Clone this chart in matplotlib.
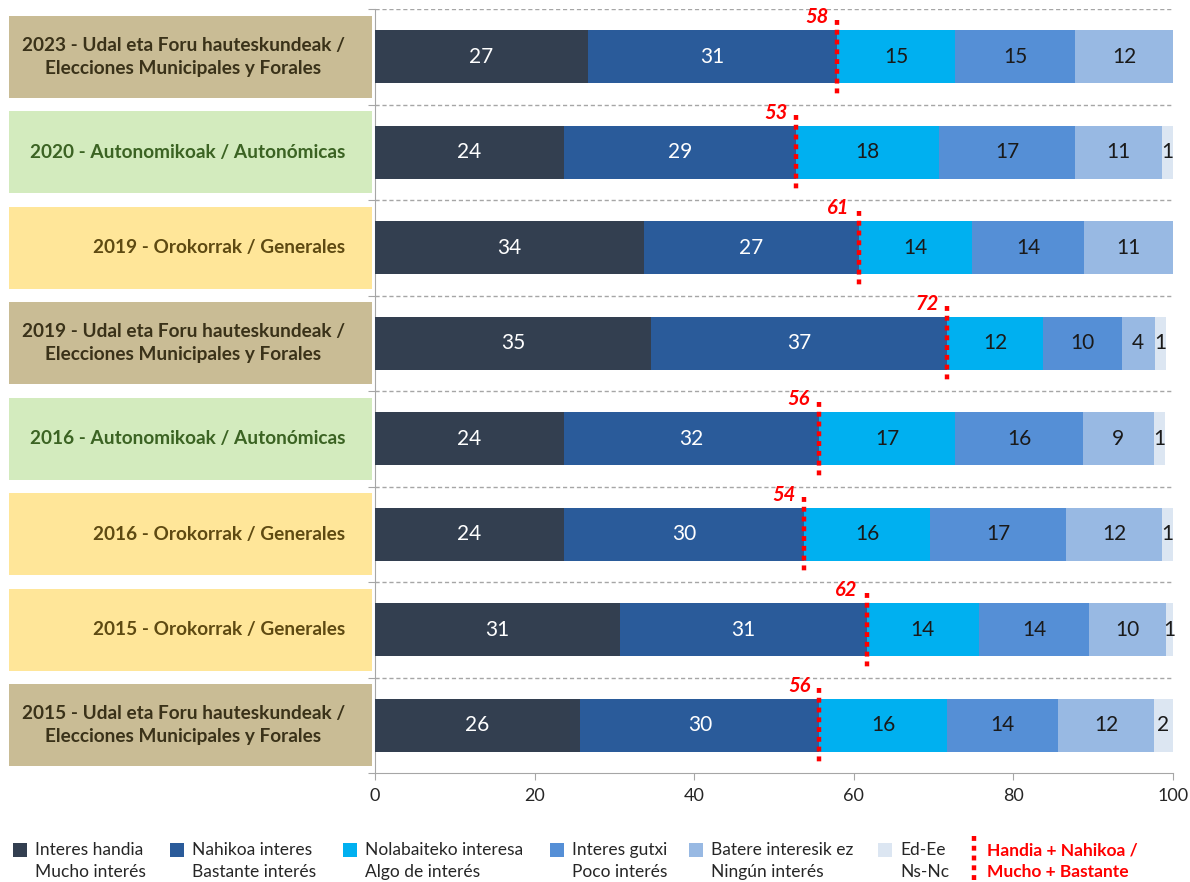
import matplotlib
matplotlib.use("Agg")
import matplotlib.pyplot as plt
from matplotlib.patches import Rectangle
from matplotlib.lines import Line2D
from matplotlib.transforms import blended_transform_factory

plt.rcParams["font.family"] = ["Lato", "DejaVu Sans"]

# rows, top to bottom
elections = [
    "2023 - Udal eta Foru hauteskundeak /\nElecciones Municipales y Forales",
    "2020 - Autonomikoak / Autonómicas",
    "2019 - Orokorrak / Generales",
    "2019 - Udal eta Foru hauteskundeak /\nElecciones Municipales y Forales",
    "2016 - Autonomikoak / Autonómicas",
    "2016 - Orokorrak / Generales",
    "2015 - Orokorrak / Generales",
    "2015 - Udal eta Foru hauteskundeak /\nElecciones Municipales y Forales",
]
election_kind = ["udal", "auto", "gen", "udal", "auto", "gen", "gen", "udal"]

# % per answer, same row order
mucho = [26.7, 23.7, 33.7, 34.6, 23.7, 23.7, 30.7, 25.7]
bastante = [31.2, 29.1, 26.9, 37.1, 31.9, 30.1, 30.9, 30.0]
algo = [14.8, 17.9, 14.2, 12.0, 17.1, 15.8, 14.1, 16.0]
poco = [15.0, 17.0, 14.1, 9.9, 16.0, 17.0, 13.8, 13.9]
ninguno = [12.3, 10.9, 11.1, 4.1, 8.9, 12.0, 9.6, 12.0]
nsnc = [0.0, 1.4, 0.0, 1.4, 1.4, 1.4, 0.9, 2.4]

series = [mucho, bastante, algo, poco, ninguno, nsnc]
legend_eu = ["Interes handia", "Nahikoa interes", "Nolabaiteko interesa",
             "Interes gutxi", "Batere interesik ez", "Ed-Ee"]
legend_es = ["Mucho interés", "Bastante interés", "Algo de interés",
             "Poco interés", "Ningún interés", "Ns-Nc"]
colors = ["#333F50", "#2A5B9A", "#00B0F0", "#558FD6", "#98B9E3", "#DCE6F2"]
text_colors = ["white", "white", "#1A1A1A", "#1A1A1A", "#1A1A1A", "#1A1A1A"]

box_face = {"udal": "#C9BC95", "auto": "#D3EBBE", "gen": "#FFE699"}
box_text = {"udal": "#3A3219", "auto": "#3B6323", "gen": "#5E4A12"}

RED = "#FF0000"
W, H = 1190, 882

fig = plt.figure(figsize=(W / 100, H / 100), dpi=100)
ax = fig.add_axes([375 / W, 109 / H, 798 / W, 764 / H])

n = len(elections)
ys = list(range(n))
bar_h = 0.555

left = [0.0] * n
for vals, col, tcol in zip(series, colors, text_colors):
    ax.barh(ys, vals, left=left, height=bar_h, color=col, edgecolor="none", zorder=3)
    for y, v, l in zip(ys, vals, left):
        if v > 0:
            ax.text(l + v / 2, y, f"{round(v)}", ha="center", va="center",
                    fontsize=15, color=tcol, zorder=4)
    left = [a + b for a, b in zip(left, vals)]

# Handia + Nahikoa marker
for y, a, b in zip(ys, mucho, bastante):
    s = a + b
    ax.plot([s, s], [y - 0.39, y + 0.39], color=RED, lw=3.2,
            linestyle=(0, (1.1, 1.1)), zorder=5, solid_capstyle="butt")
    ax.text(s - 1.1, y - bar_h / 2 - 0.03, f"{round(s)}", ha="right", va="bottom",
            color=RED, fontsize=14.5, fontweight="bold", fontstyle="italic", zorder=6)

ax.set_xlim(0, 100)
ax.set_ylim(n - 0.5, -0.5)
for y in ys:
    ax.axhline(y - 0.5, color="#A6A6A6", lw=1, linestyle=(0, (3, 2)), zorder=1)

ax.set_xticks(range(0, 101, 20))
ax.set_yticks([y - 0.5 for y in ys] + [n - 0.5])
ax.set_yticklabels([])
ax.tick_params(axis="x", length=5, color="#A6A6A6", labelsize=13, labelcolor="#262626", pad=6)
ax.tick_params(axis="y", length=5, color="#A6A6A6")
for side in ("top", "right"):
    ax.spines[side].set_visible(False)
for side in ("left", "bottom"):
    ax.spines[side].set_color("#A6A6A6")

# category boxes on the left
tr = blended_transform_factory(fig.transFigure, ax.transData)
for y, label, kind in zip(ys, elections, election_kind):
    ax.add_patch(Rectangle((9 / W, y - 0.43), 363 / W, 0.86, transform=tr,
                           facecolor=box_face[kind], edgecolor="none", clip_on=False))
    ax.text(345 / W, y, label, transform=tr, ha="right", va="center",
            multialignment="center", fontsize=13.7, fontweight="bold",
            color=box_text[kind], linespacing=1.4, clip_on=False)

# legend
leg_x = [13, 170, 343, 550, 689, 878]
y1 = 1 - 850 / H
y2 = 1 - 872 / H
for x, eu, es, col in zip(leg_x, legend_eu, legend_es, colors):
    fig.patches.append(Rectangle((x / W, y1 - 7 / H), 14 / W, 14 / H,
                                 transform=fig.transFigure, facecolor=col,
                                 edgecolor="none"))
    fig.text((x + 22) / W, y1, eu, ha="left", va="center", fontsize=12.5, color="#262626")
    fig.text((x + 22) / W, y2, es, ha="left", va="center", fontsize=12.5, color="#262626")

fig.lines.append(Line2D([974 / W, 974 / W], [1 - 836 / H, 1 - 880 / H],
                        transform=fig.transFigure, color=RED, lw=3.2,
                        linestyle=(0, (1.1, 1.1))))
fig.text(987 / W, y1, "Handia + Nahikoa /", ha="left", va="center",
         fontsize=12.5, color=RED, fontweight="bold")
fig.text(987 / W, y2, "Mucho + Bastante", ha="left", va="center",
         fontsize=12.5, color=RED, fontweight="bold")

fig.savefig("out.png", dpi=100)
